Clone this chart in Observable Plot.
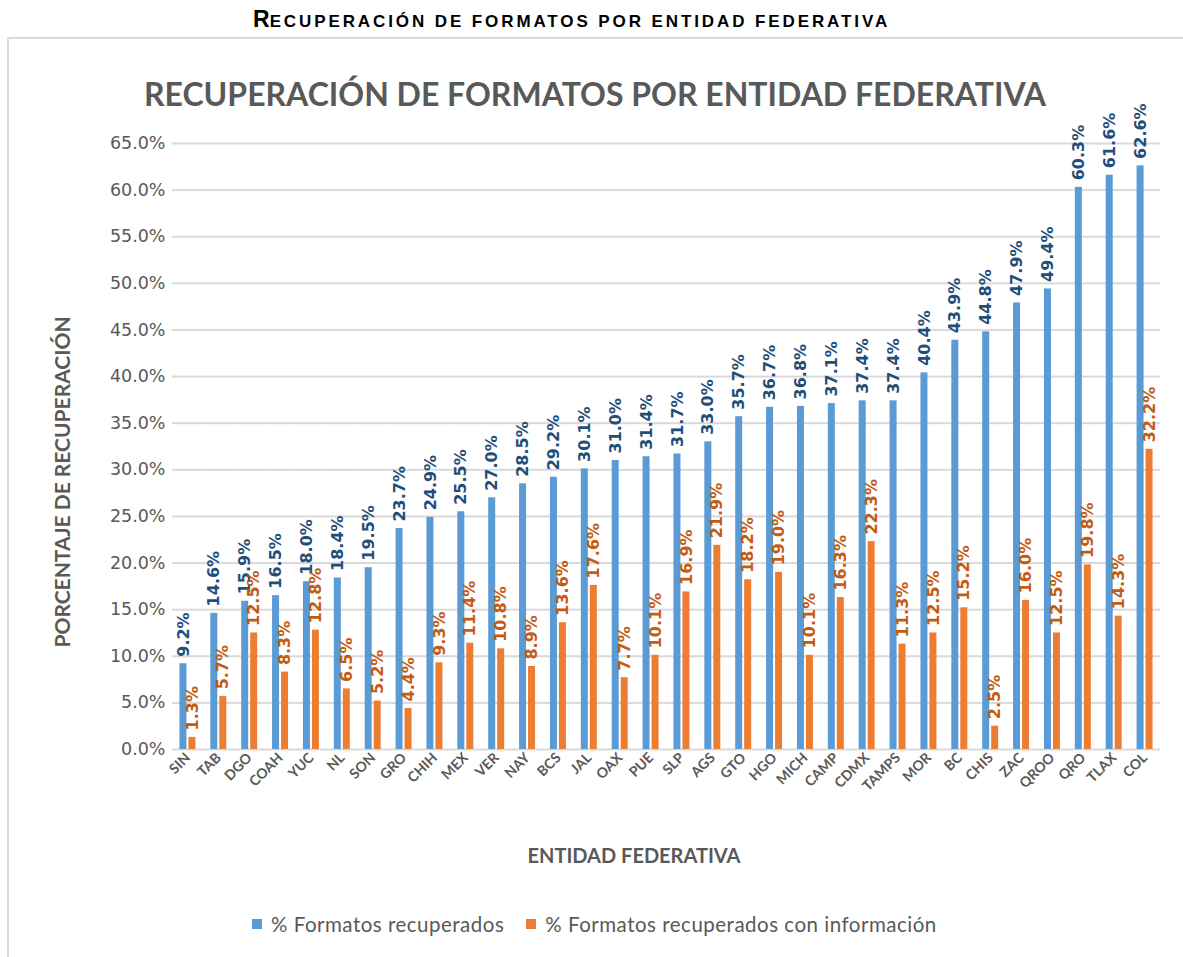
<!DOCTYPE html>
<html>
<head>
<meta charset="utf-8">
<script src="https://cdn.jsdelivr.net/npm/d3@7"></script>
<script src="https://cdn.jsdelivr.net/npm/@observablehq/plot@0.6"></script>
<style>
  html, body { margin: 0; padding: 0; background: #fff; overflow: hidden; }
  body { width: 1183px; height: 957px; position: relative; }
  #toptitle { position: absolute; left: 253px; top: 6px; white-space: nowrap;
    font-family: "Liberation Sans", Arial, sans-serif; font-weight: bold; color: #000; }
  #toptitle .big { font-size: 23px; }
  #toptitle .small { font-size: 17px; letter-spacing: 2.9px; }
  #box { position: absolute; left: 7px; top: 37px; width: 1200px; height: 930px;
    border: 2px solid #d9d9d9; box-sizing: border-box; }
  #title { position: absolute; left: 0; width: 1190px; top: 74px; text-align: center;
    font-family: Lato, sans-serif; font-weight: bold; font-size: 32px; color: #595959; }
  #ytitle { position: absolute; left: 61px; top: 482px; transform: translate(-50%, -50%) rotate(-90deg);
    white-space: nowrap; font-family: Lato, sans-serif; font-weight: bold; font-size: 21px; color: #595959; }
  #xtitle { position: absolute; left: 0; width: 1268px; top: 843px; text-align: center;
    font-family: Lato, sans-serif; font-weight: bold; font-size: 20px; color: #595959; }
  #chart { position: absolute; left: 0; top: 95px; width: 1183px; }
  #chart svg { max-width: none; }
  #legend { position: absolute; left: 252px; top: 912px; font-family: Lato, sans-serif; font-size: 20.5px;
    letter-spacing: 0.5px; color: #595959; display: flex; align-items: center; white-space: nowrap; }
  #legend .sw { display: inline-block; width: 10px; height: 10px; margin-right: 9px; }
  #legend .item { display: flex; align-items: center; margin-right: 22px; }
</style>
</head>
<body>
<div id="toptitle"><span class="big">R</span><span class="small">ECUPERACIÓN DE FORMATOS POR ENTIDAD FEDERATIVA</span></div>
<div id="box"></div>
<div id="title">RECUPERACIÓN DE FORMATOS POR ENTIDAD FEDERATIVA</div>
<div id="ytitle">PORCENTAJE DE RECUPERACIÓN</div>
<div id="xtitle">ENTIDAD FEDERATIVA</div>
<div id="chart"></div>
<div id="legend"></div>
<script>
const states = ["SIN","TAB","DGO","COAH","YUC","NL","SON","GRO","CHIH","MEX","VER","NAY","BCS","JAL","OAX","PUE","SLP","AGS","GTO","HGO","MICH","CAMP","CDMX","TAMPS","MOR","BC","CHIS","ZAC","QROO","QRO","TLAX","COL"];
const recuperados = [9.2,14.6,15.9,16.5,18.0,18.4,19.5,23.7,24.9,25.5,27.0,28.5,29.2,30.1,31.0,31.4,31.7,33.0,35.7,36.7,36.8,37.1,37.4,37.4,40.4,43.9,44.8,47.9,49.4,60.3,61.6,62.6];
const conInformacion = [1.3,5.7,12.5,8.3,12.8,6.5,5.2,4.4,9.3,11.4,10.8,8.9,13.6,17.6,7.7,10.1,16.9,21.9,18.2,19.0,10.1,16.3,22.3,11.3,12.5,15.2,2.5,16.0,12.5,19.8,14.3,32.2];
const seriesNames = ["% Formatos recuperados", "% Formatos recuperados con información"];
const barColors = ["#5B9BD5", "#ED7D31"];
const labelColors = ["#1F4E79", "#C55A11"];
const yTicks = [0,5,10,15,20,25,30,35,40,45,50,55,60,65];

const data = states.flatMap((s, i) => [
  {state: s, serie: seriesNames[0], value: recuperados[i]},
  {state: s, serie: seriesNames[1], value: conInformacion[i]}
]);

const chart = Plot.plot({
  width: 1183,
  height: 720,
  marginTop: 48,
  marginBottom: 66,
  marginLeft: 172,
  marginRight: 23,
  style: {background: "transparent", overflow: "visible"},
  fx: {domain: states, padding: 0, round: false, label: null, tickRotate: -45, tickSize: 0, tickPadding: 6},
  x: {domain: seriesNames, paddingInner: 0.22, paddingOuter: 0.83, round: false, axis: null},
  y: {domain: [0, 65], ticks: yTicks, tickFormat: d => d.toFixed(1) + "%", label: null, tickSize: 0, tickPadding: 7},
  color: {domain: seriesNames, range: barColors},
  marks: [
    Plot.ruleY(yTicks, {stroke: "#d9d9d9", strokeWidth: 2}),
    Plot.barY(data, {fx: "state", x: "serie", y: "value", fill: "serie"}),
    Plot.text(data, {fx: "state", x: "serie", y: "value", text: d => d.value.toFixed(1) + "%",
      rotate: -90, textAnchor: "start", lineAnchor: "middle", dy: -7,
      fill: d => labelColors[seriesNames.indexOf(d.serie)],
      fontSize: 16, fontFamily: "DejaVu Sans", fontWeight: "bold"})
  ]
});
document.getElementById("chart").appendChild(chart);

const svg = d3.select(chart);
svg.selectAll('[aria-label^="y-axis"] text, [aria-label^="y-axis"]')
  .attr("font-family", "DejaVu Sans").attr("font-size", 17.5).attr("fill", "#595959");
svg.selectAll('[aria-label^="fx-axis"] text, [aria-label^="fx-axis"]')
  .attr("font-family", "Lato").attr("font-weight", "bold").attr("font-size", 14).attr("fill", "#595959");

const legend = d3.select("#legend");
seriesNames.forEach((n, i) => {
  const it = legend.append("div").attr("class", "item");
  it.append("span").attr("class", "sw").style("background", barColors[i]);
  it.append("span").text(n);
});
</script>
</body>
</html>
